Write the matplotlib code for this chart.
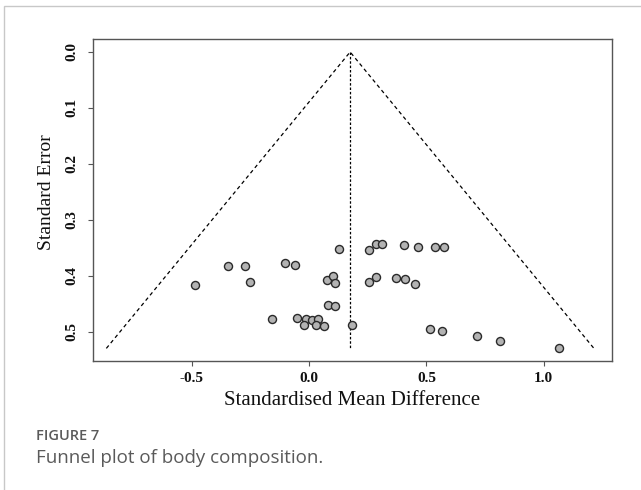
import matplotlib
matplotlib.use("Agg")
import matplotlib.pyplot as plt
from matplotlib.patches import Rectangle
import numpy as np

# study estimates
smd = [0.129, 0.257, 0.287, 0.311, 0.403, 0.463, 0.538, 0.577,
       -0.344, -0.273, -0.101, -0.060,
       -0.487, -0.253, 0.075, 0.101, 0.109, 0.256, 0.287, 0.372, 0.410, 0.453,
       0.082, 0.112,
       -0.159, -0.052, -0.014, 0.014, 0.038, -0.020, 0.031, 0.064, 0.182,
       0.515, 0.567, 0.714, 0.815, 1.064]
se = [0.352, 0.354, 0.343, 0.343, 0.346, 0.348, 0.348, 0.349,
      0.382, 0.382, 0.377, 0.380,
      0.417, 0.411, 0.407, 0.401, 0.413, 0.412, 0.402, 0.405, 0.406, 0.415,
      0.452, 0.454,
      0.478, 0.476, 0.478, 0.480, 0.477, 0.488, 0.489, 0.490, 0.489,
      0.495, 0.499, 0.508, 0.516, 0.530]
pooled = 0.175
x_ticks = [-0.5, 0.0, 0.5, 1.0]
y_ticks = [0.0, 0.1, 0.2, 0.3, 0.4, 0.5]

serif = ["Liberation Serif", "DejaVu Serif"]

fig = plt.figure(figsize=(6.41, 4.90), dpi=100)
ax = fig.add_axes([0.1446, 0.2639, 0.9552 - 0.1446, 0.9198 - 0.2639])

# funnel (pseudo 95% limits) and pooled estimate line
se_max = max(se)
ax.plot([pooled - 1.96 * se_max, pooled, pooled + 1.96 * se_max], [se_max, 0, se_max],
        color="black", lw=0.9, ls=(0, (3, 2.5)))
ax.plot([pooled, pooled], [0, se_max], color="black", lw=0.9, ls=(0, (2, 1.5)))

ax.plot(smd, se, "o", ms=5.8, mfc="#b3b3b3", mec="#2a2a2a", mew=1.0)

ax.set_xlim(-0.922, 1.292)
ax.set_ylim(0.552, -0.0227)
ax.set_xticks(x_ticks)
ax.set_xticklabels([f"{v:.1f}" for v in x_ticks])
ax.set_yticks(y_ticks)
ax.set_yticklabels([f"{v:.1f}" for v in y_ticks], rotation=90, va="center")

for s in ax.spines.values():
    s.set_color("#555555")
    s.set_linewidth(1.0)
ax.tick_params(direction="out", length=3.5, width=0.8, color="#555555", pad=5)
ax.tick_params(axis="y", pad=6.5)
for lab in ax.get_xticklabels() + ax.get_yticklabels():
    lab.set_family(serif)
    lab.set_fontweight("bold")
    lab.set_fontsize(11)
    lab.set_color("#111111")

ax.set_xlabel("Standardised Mean Difference", family=serif, fontsize=15, color="#111111")
ax.set_ylabel("Standard Error", family=serif, fontsize=14, color="#111111")
ax.xaxis.set_label_coords(0.5, -0.093)
ax.yaxis.set_label_coords(-0.073, 0.525)

# caption
sans = ["Open Sans", "Noto Sans", "DejaVu Sans"]
fig.text(36 / 641, 1 - 436 / 490, "FIGURE 7", family=sans, fontsize=10.5,
         fontweight="semibold", color="#5a5a5a", va="center")
fig.text(36 / 641, 1 - 458 / 490, "Funnel plot of body composition.", family=sans,
         fontsize=13.5, color="#5a5a5a", va="center")

# outer card border (only left and top edges visible)
fig.patches.append(Rectangle((4 / 641, -0.5), 2.0, 0.5 + 1 - 6 / 490,
                             transform=fig.transFigure, fill=False,
                             edgecolor="#c8c8c8", lw=1.0))

fig.savefig("out.png", dpi=100)
